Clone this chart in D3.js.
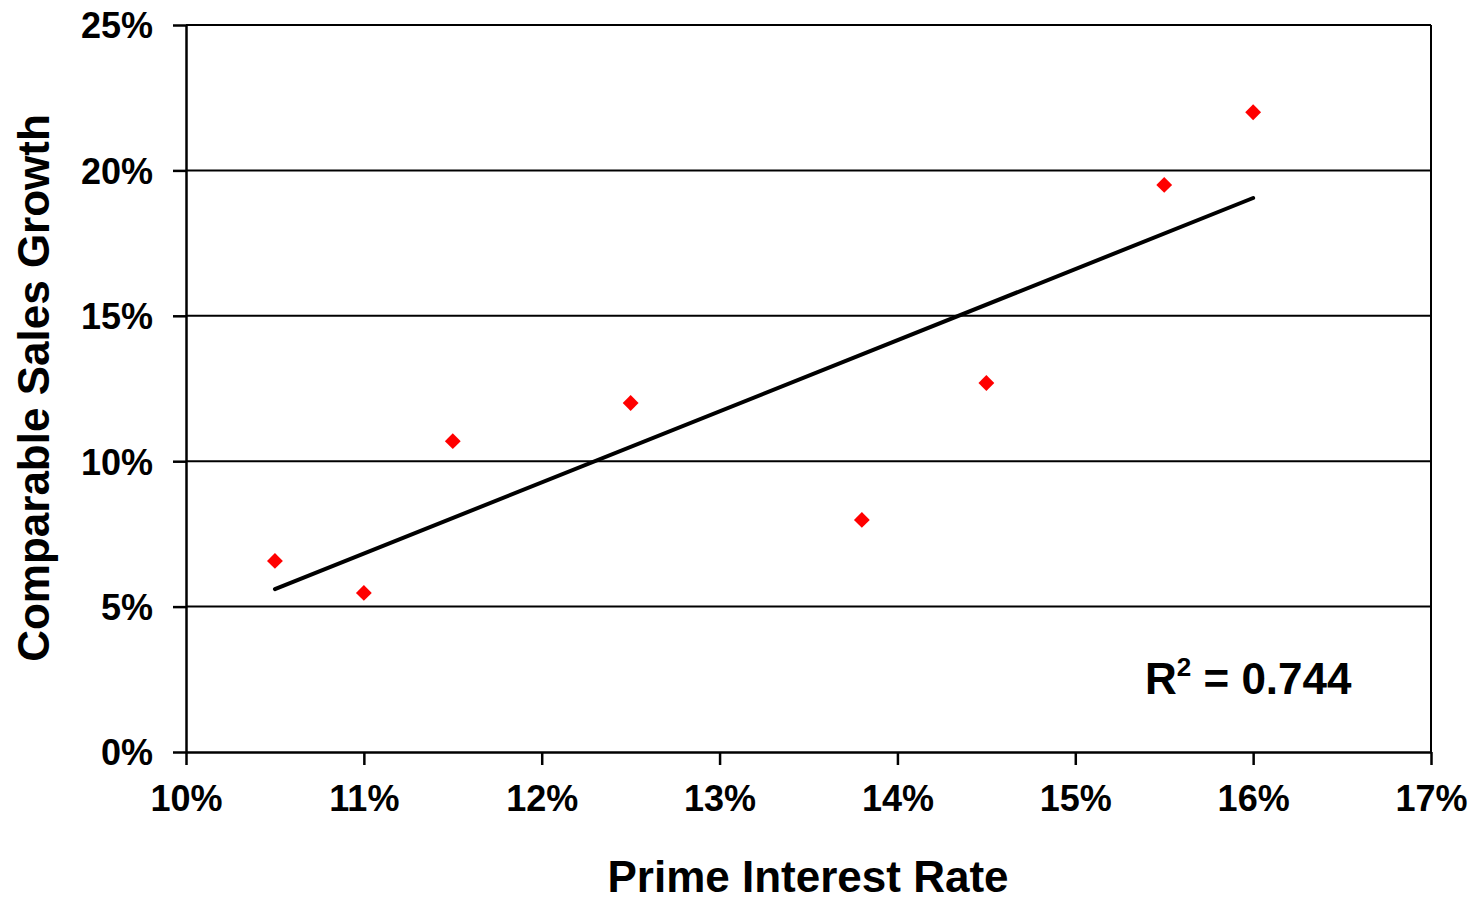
<!DOCTYPE html>
<html><head><meta charset="utf-8">
<script src="https://cdn.jsdelivr.net/npm/d3@7"></script>
<style>body{margin:0;background:#fff}svg{display:block}text{font-family:"Liberation Sans",Arial,sans-serif;font-weight:bold}</style>
</head><body><svg id="c" width="1482" height="901"></svg>
<script>
const primeRate = [10.5, 11.0, 11.5, 12.5, 13.8, 14.5, 15.5, 16.0];
const salesGrowth = [6.57, 5.47, 10.69, 12.0, 7.98, 12.69, 19.5, 22.0];
const xTicks = [10, 11, 12, 13, 14, 15, 16, 17];
const yTicks = [0, 5, 10, 15, 20, 25];
const rSquaredLabel = "0.744";

const svg = d3.select("#c");
const L = 186, R = 1431, T = 25, B = 752;
const x = d3.scaleLinear().domain([10, 17]).range([L, R]);
const y = d3.scaleLinear().domain([0, 25]).range([B, T]);

svg.append("g").selectAll("line").data(yTicks.filter(d => d > 0)).join("line")
  .attr("x1", L).attr("x2", R).attr("y1", d => y(d)).attr("y2", d => y(d))
  .attr("stroke", "#000").attr("stroke-width", 2);
svg.append("line").attr("x1", R).attr("x2", R).attr("y1", T).attr("y2", B)
  .attr("stroke", "#000").attr("stroke-width", 2);

const fmt = d => d + "%";
const xa = svg.append("g").attr("transform", `translate(0,${B})`)
  .call(d3.axisBottom(x).tickValues(xTicks).tickFormat(fmt).tickSize(13).tickPadding(20).tickSizeOuter(0));
const ya = svg.append("g").attr("transform", `translate(${L},0)`)
  .call(d3.axisLeft(y).tickValues(yTicks).tickFormat(fmt).tickSize(13).tickPadding(20).tickSizeOuter(0));
[xa, ya].forEach(a => {
  a.selectAll("path,line").attr("stroke", "#000").attr("stroke-width", 2.5);
  a.selectAll("text").attr("font-size", 36).attr("fill", "#000")
    .style("font-family", '"Liberation Sans",Arial,sans-serif').style("font-weight", "bold");
});
ya.selectAll("text").attr("dy", "0.36em");

const mx = d3.mean(primeRate), my = d3.mean(salesGrowth);
const slope = d3.sum(primeRate, (v, i) => (v - mx) * (salesGrowth[i] - my)) / d3.sum(primeRate, v => (v - mx) ** 2);
const icpt = my - slope * mx;
const x0 = d3.min(primeRate), x1 = d3.max(primeRate);
svg.append("line").attr("x1", x(x0)).attr("y1", y(icpt + slope * x0))
  .attr("x2", x(x1)).attr("y2", y(icpt + slope * x1))
  .attr("stroke", "#000").attr("stroke-width", 4).attr("stroke-linecap", "round");

const diamond = d3.symbol().type(d3.symbolDiamond2).size(160);
svg.append("g").selectAll("path").data(primeRate).join("path")
  .attr("d", diamond)
  .attr("transform", (d, i) => `translate(${x(d)},${y(salesGrowth[i])})`)
  .attr("fill", "#ff0000");

const rt = svg.append("text").attr("x", 1145).attr("y", 694).attr("font-size", 44).attr("fill", "#000");
rt.append("tspan").text("R");
rt.append("tspan").attr("font-size", 26).attr("dy", -18).text("2");
rt.append("tspan").attr("dy", 18).text(" = " + rSquaredLabel);

svg.append("text").attr("x", 808).attr("y", 892).attr("text-anchor", "middle")
  .attr("font-size", 44).attr("fill", "#000").text("Prime Interest Rate");
svg.append("text").attr("transform", "translate(49,388) rotate(-90)").attr("text-anchor", "middle")
  .attr("font-size", 44).attr("fill", "#000").text("Comparable Sales Growth");
</script></body></html>
